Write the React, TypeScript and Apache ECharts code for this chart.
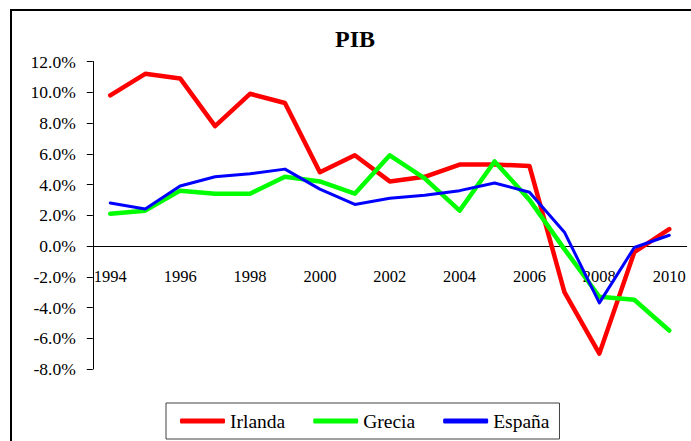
import React, { useEffect, useRef } from "react";
import * as echarts from "echarts";

const years = ["1994","1995","1996","1997","1998","1999","2000","2001","2002","2003","2004","2005","2006","2007","2008","2009","2010"];
const irlanda = [9.8, 11.2, 10.9, 7.8, 9.9, 9.3, 4.8, 5.9, 4.2, 4.5, 5.3, 5.3, 5.2, -3.0, -7.0, -0.4, 1.1];
const grecia = [2.1, 2.3, 3.6, 3.4, 3.4, 4.5, 4.2, 3.4, 5.9, 4.4, 2.3, 5.5, 3.0, -0.2, -3.3, -3.5, -5.5];
const espana = [2.8, 2.4, 3.9, 4.5, 4.7, 5.0, 3.7, 2.7, 3.1, 3.3, 3.6, 4.1, 3.5, 0.9, -3.7, -0.1, 0.7];
const seriesNames = ["Irlanda", "Grecia", "España"];
const seriesColors = ["#FF0000", "#00FF00", "#0000FF"];
const seriesWidths = [4.5, 4.5, 3];
const titleText = "PIB";

const FONT = "Liberation Serif";

export default function App() {
  const ref = useRef<HTMLDivElement>(null);
  useEffect(() => {
    document.body.style.margin = "0";
    document.body.style.overflow = "hidden";
    if (!ref.current) return;
    const chart = echarts.init(ref.current, null, { renderer: "svg" });
    const data = [irlanda, grecia, espana];
    const gridTop = 61.5;
    const gridBottom = 72;
    const plotH = 441 - gridTop - gridBottom;
    const zeroOffset = -(plotH * 8) / 20;
    chart.setOption({
      animation: false,
      backgroundColor: "#ffffff",
      textStyle: { fontFamily: FONT },
      title: {
        text: titleText,
        left: 335,
        top: 27,
        padding: 0,
        textStyle: { fontFamily: FONT, fontSize: 24, fontWeight: "bold", color: "#000" },
      },
      graphic: [
        {
          type: "rect",
          shape: { x: 11, y: 10, width: 900, height: 700 },
          style: { fill: "none", stroke: "#000", lineWidth: 2 },
          silent: true,
        },
      ],
      legend: {
        left: 166,
        top: 403,
        padding: [8, 10, 8, 14],
        itemGap: 28,
        itemWidth: 45,
        itemHeight: 5,
        borderColor: "#404040",
        borderWidth: 1,
        icon: "roundRect",
        textStyle: { fontFamily: FONT, fontSize: 19.5, color: "#000" },
        data: seriesNames,
      },
      grid: { left: 92.8, right: 4.3, top: gridTop, bottom: gridBottom, containLabel: false },
      xAxis: {
        type: "category",
        data: years,
        boundaryGap: true,
        position: "bottom",
        offset: zeroOffset,
        axisLine: { onZero: false, lineStyle: { color: "#000", width: 1 } },
        axisTick: { length: 5, lineStyle: { color: "#000" } },
        axisLabel: { interval: 1, margin: 22, fontFamily: FONT, fontSize: 16.5, color: "#000" },
      },
      yAxis: {
        type: "value",
        min: -8,
        max: 12,
        interval: 2,
        splitLine: { show: false },
        axisLine: { show: true, lineStyle: { color: "#000", width: 1 } },
        axisTick: { show: true, length: 6, lineStyle: { color: "#000" } },
        axisLabel: {
          margin: 17,
          fontFamily: FONT,
          fontSize: 17.5,
          color: "#000",
          formatter: (v: number) => v.toFixed(1) + "%",
        },
      },
      series: seriesNames.map((name, i) => ({
        name,
        type: "line",
        data: data[i],
        symbol: "none",
        showSymbol: false,
        color: seriesColors[i],
        lineStyle: { color: seriesColors[i], width: seriesWidths[i], cap: "round", join: "round" },
        itemStyle: { color: seriesColors[i] },
      })),
    });
    return () => chart.dispose();
  }, []);
  return <div ref={ref} style={{ width: 691, height: 441 }} />;
}
